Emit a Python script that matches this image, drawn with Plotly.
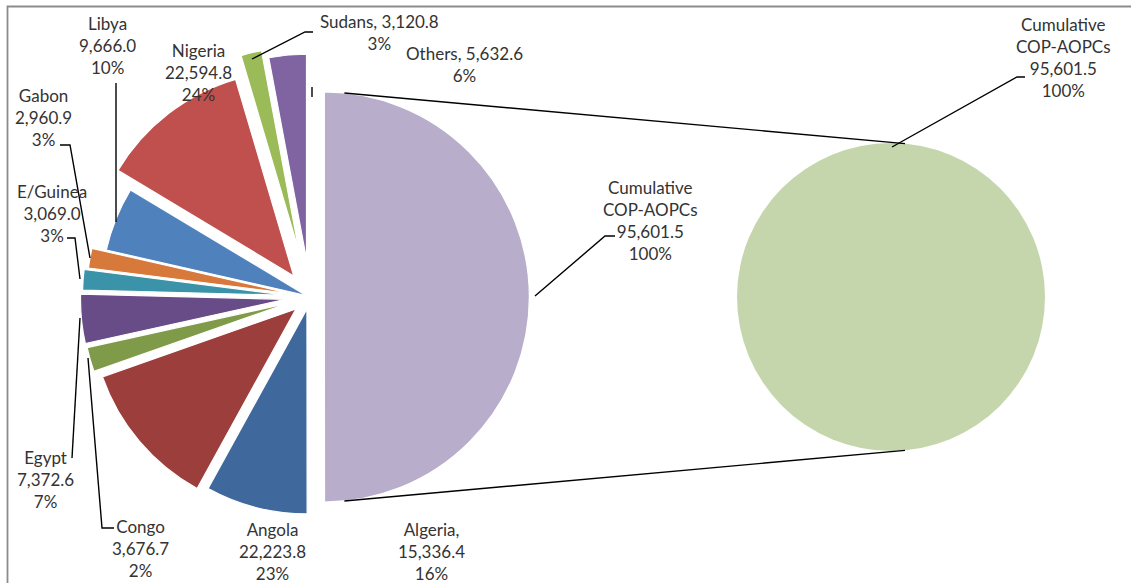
import math
import plotly.graph_objects as go

# ---------------- data ----------------
categories = ["Cumulative COP-AOPCs", "Algeria", "Angola", "Congo", "Egypt",
              "E/Guinea", "Gabon", "Libya", "Nigeria", "Sudans", "Others"]
values = [95601.5, 15336.4, 22223.8, 3676.7, 7372.6,
          3069.0, 2960.9, 9666.0, 22594.8, 3120.8, 5632.6]
percents = ["100%", "16%", "23%", "2%", "7%", "3%", "3%", "10%", "24%", "3%", "6%"]

second_category = "Cumulative COP-AOPCs"
second_value = 95601.5
second_percent = "100%"

# ---------------- styles ----------------
colors = ["#B8ADCA", "#3F689C", "#9C3E3B", "#7F9A48", "#684C88",
          "#3A93A8", "#D7793A", "#4F81BD", "#C0504D", "#9BBB59", "#8064A2"]
pulls = [0.07, 0.06, 0.09, 0.115, 0.12, 0.11, 0.09, 0.02, 0.13, 0.225, 0.185]
second_color = "#C5D6AC"

W, H = 1131, 583
FONT = dict(family="Lato, 'Open Sans', sans-serif", size=17, color="#333333")


def px(x):
    return x / W


def py(y):
    return 1 - y / H


# left pie geometry (pixels)
CX1, CY1, R1 = 310, 297, 205
hb1 = R1 * (1 + max(pulls))
# right pie geometry
CX2, CY2, R2 = 891, 297, 154

fig = go.Figure()
fig.add_trace(go.Pie(
    labels=categories, values=values, sort=False, direction="clockwise",
    rotation=0, pull=pulls, textinfo="none", hoverinfo="label+value+percent",
    marker=dict(colors=colors, line=dict(color="white", width=1.2)),
    domain=dict(x=[px(CX1 - hb1), px(CX1 + hb1)], y=[py(CY1 + hb1), py(CY1 - hb1)]),
    showlegend=False,
))
fig.add_trace(go.Pie(
    labels=[second_category], values=[second_value], sort=False,
    textinfo="none", hoverinfo="label+value",
    marker=dict(colors=[second_color], line=dict(color="white", width=0)),
    domain=dict(x=[px(CX2 - R2), px(CX2 + R2)], y=[py(CY2 + R2), py(CY2 - R2)]),
    showlegend=False,
))

# ---------------- labels ----------------
def fmt(name, val, pct, style):
    v = f"{val:,.1f}"
    if style == "a":
        return f"{name}<br>{v}<br>{pct}"
    if style == "b":
        return f"{name},<br>{v}<br>{pct}"
    if style == "c":
        return f"{name}, {v}<br>{pct}"
    if style == "d":
        return f"{name.replace(' ', '<br>')}<br>{v}<br>{pct}"


label_layout = {
    "Cumulative COP-AOPCs": (650, 220, "d"),
    "Algeria": (432, 551, "b"),
    "Angola": (272, 551, "a"),
    "Congo": (140, 548, "a"),
    "Egypt": (45, 479, "a"),
    "E/Guinea": (52, 213, "a"),
    "Gabon": (43, 118, "a"),
    "Libya": (107, 45, "a"),
    "Nigeria": (198, 73, "a"),
    "Sudans": (379, 33, "c"),
    "Others": (464, 64, "c"),
}

annotations = []
for name, val, pct in zip(categories, values, percents):
    x, y, st = label_layout[name]
    annotations.append(dict(x=px(x), y=py(y), xref="paper", yref="paper",
                            text=fmt(name, val, pct, st), showarrow=False,
                            font=FONT, align="center", xanchor="center", yanchor="middle"))
annotations.append(dict(x=px(1063), y=py(57), xref="paper", yref="paper",
                        text=fmt(second_category, second_value, second_percent, "d"),
                        showarrow=False, font=FONT, align="center",
                        xanchor="center", yanchor="middle"))

# leader lines (pixel polylines)
leaders = [
    [(116, 83), (116, 222)],
    [(60, 145), (70, 145), (90, 258)],
    [(67, 238), (75, 238), (80, 279)],
    [(72, 458), (80, 318)],
    [(114, 528), (102, 528), (88, 358)],
    [(313, 32), (305, 32), (252, 59)],
    [(312, 87), (312, 97)],
    [(615, 236), (605, 236), (535, 296)],
    [(1025, 77), (1017, 77), (892, 147)],
]

shapes = []
for pts in leaders:
    path = "M " + " L ".join(f"{px(x)},{py(y)}" for x, y in pts)
    shapes.append(dict(type="path", path=path, xref="paper", yref="paper",
                       line=dict(color="black", width=1.4)))

# connector lines between the pies
lav_cx = CX1 + pulls[0] * R1
off1, off2 = 20, 14
sx = lav_cx + off1
ex = CX2 + off2
dy1 = math.sqrt(R1 ** 2 - off1 ** 2)
dy2 = math.sqrt(R2 ** 2 - off2 ** 2)
for sgn in (-1, 1):
    shapes.append(dict(type="line", xref="paper", yref="paper",
                       x0=px(sx), y0=py(CY1 + sgn * dy1),
                       x1=px(ex), y1=py(CY2 + sgn * dy2),
                       line=dict(color="black", width=1.4)))

# chart border (cropped at right/bottom)
shapes.append(dict(type="rect", xref="paper", yref="paper",
                   x0=px(7.5), y0=py(6.5), x1=px(W + 10), y1=py(H + 10),
                   line=dict(color="#8c8c8c", width=1.8), fillcolor="rgba(0,0,0,0)"))

fig.update_layout(
    width=W, height=H, margin=dict(l=0, r=0, t=0, b=0),
    paper_bgcolor="white", plot_bgcolor="white",
    annotations=annotations, shapes=shapes, font=FONT,
)

fig.write_html("out.html")
